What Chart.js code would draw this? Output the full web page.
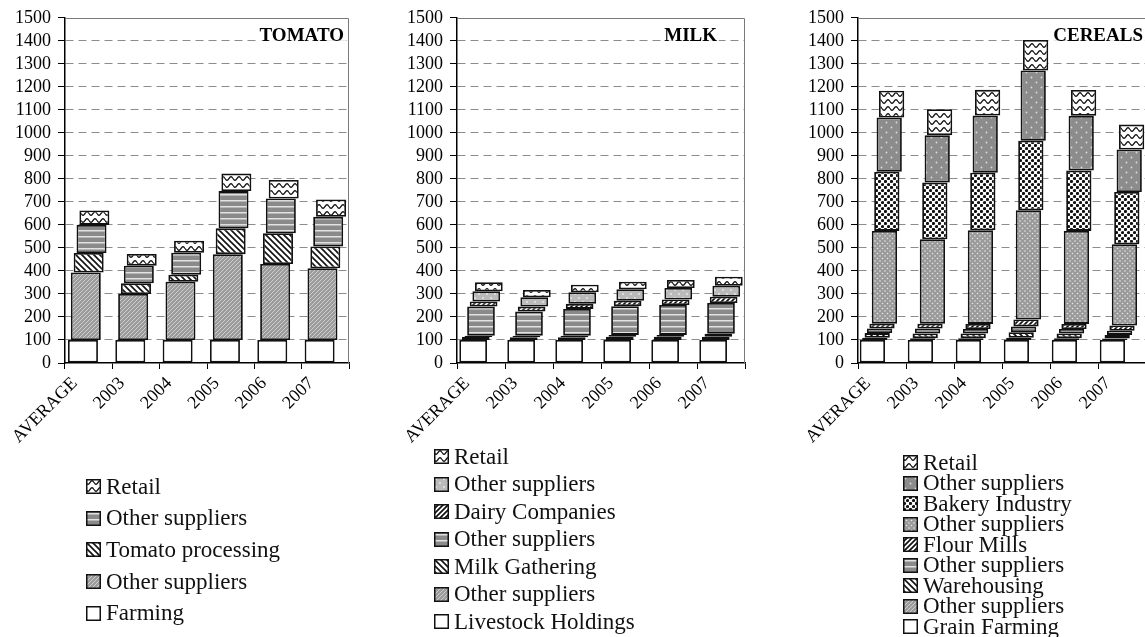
<!DOCTYPE html>
<html>
<head>
<meta charset="utf-8">
<script src="https://cdn.jsdelivr.net/npm/chart.js@4.4.1/dist/chart.umd.min.js"></script>
<style>
  html, body { margin: 0; padding: 0; background: #fff; overflow: hidden; width: 1145px; height: 637px; }
  .panel { position: absolute; top: 0; }
  .legend { position: absolute; font-family: 'Liberation Serif', 'Times New Roman', serif; font-size: 23px; color: #111; }
  .legend .row { display: flex; align-items: center; white-space: nowrap; }
  .legend canvas { margin-right: 5px; }
</style>
</head>
<body>
<canvas id="tomato" class="panel"></canvas>
<canvas id="milk" class="panel"></canvas>
<canvas id="cereals" class="panel"></canvas>
<div id="tomatoLegend" class="legend"></div>
<div id="milkLegend" class="legend"></div>
<div id="cerealsLegend" class="legend"></div>
<script>
const categories = ['AVERAGE', '2003', '2004', '2005', '2006', '2007'];
const yMin = 0;
const yMax = 1500;
const yStep = 100;

// TOMATO: value added by each stage of the chain
const tomatoStages = ['Farming', 'Other suppliers', 'Tomato processing', 'Other suppliers', 'Retail'];
const tomatoFarming = [100, 100, 100, 100, 100, 100];
const tomatoOther1 = [293, 200, 253, 373, 330, 312];
const tomatoProcessing = [85, 46, 31, 112, 134, 94];
const tomatoOther2 = [122, 77, 95, 162, 151, 129];
const tomatoRetail = [63, 51, 52, 76, 80, 76];

// MILK
const milkStages = ['Livestock Holdings', 'Other suppliers', 'Milk Gathering', 'Other suppliers',
  'Dairy Companies', 'Other suppliers', 'Retail'];
const milkLivestock = [100, 100, 100, 100, 100, 100];
const milkOther1 = [13, 12, 12, 14, 14, 14];
const milkGathering = [5, 6, 6, 8, 8, 13];
const milkOther2 = [127, 106, 117, 125, 130, 134];
const milkDairy = [22, 21, 22, 24, 24, 27];
const milkOther3 = [45, 41, 50, 49, 50, 48];
const milkRetail = [39, 31, 33, 33, 35, 39];

// CEREALS
const cerealStages = ['Grain Farming', 'Other suppliers', 'Warehousing', 'Other suppliers', 'Flour Mills',
  'Other suppliers', 'Bakery Industry', 'Other suppliers', 'Retail'];
const cerealFarming = [100, 100, 100, 100, 100, 100];
const cerealOther1 = [10, 8, 8, 10, 8, 6];
const cerealWarehousing = [20, 20, 20, 24, 20, 16];
const cerealOther2 = [20, 22, 20, 25, 20, 18];
const cerealFlour = [21, 21, 22, 30, 22, 23];
const cerealOther3 = [403, 367, 407, 475, 404, 353];
const cerealBakery = [257, 246, 250, 302, 262, 227];
const cerealOther4 = [236, 206, 248, 305, 238, 185];
const cerealRetail = [116, 113, 112, 133, 112, 108];

Chart.defaults.font.family = "'Liberation Serif', 'Times New Roman', serif";
Chart.defaults.font.size = 18;
Chart.defaults.color = '#000';

// fill patterns used by the bars and legend swatches
function makePattern(type) {
  if (type === 'white') return '#ffffff';
  const c = document.createElement('canvas');
  const g = c.getContext('2d');
  let w = 6, h = 6;
  if (type === 'grayDiag') { w = h = 4; }
  if (type === 'fwdDiag') { w = h = 5; }
  if (type === 'grayHoriz') { w = 4; h = 6; }
  if (type === 'lightDots') { w = h = 8; }
  if (type === 'grayDots') { w = h = 5; }
  if (type === 'sparseDots') { w = h = 10; }
  if (type === 'waves') { w = 8; h = 7; }
  c.width = w; c.height = h;
  const diag = (dir, color, lw) => {
    g.strokeStyle = color; g.lineWidth = lw;
    g.beginPath();
    for (let k = -1; k <= 1; k++) {
      if (dir > 0) { g.moveTo(k * w - 1, h + 1); g.lineTo(k * w + w + 1, -1); }
      else { g.moveTo(k * w - 1, -1); g.lineTo(k * w + w + 1, h + 1); }
    }
    g.stroke();
  };
  const dot = (x, y, r, color) => {
    g.fillStyle = color; g.beginPath(); g.arc(x, y, r, 0, Math.PI * 2); g.fill();
  };
  switch (type) {
    case 'grayDiag':
      g.fillStyle = '#9c9c9c'; g.fillRect(0, 0, w, h);
      diag(1, '#d2d2d2', 0.9);
      break;
    case 'backDiag':
      g.fillStyle = '#fff'; g.fillRect(0, 0, w, h);
      diag(-1, '#111', 1.6);
      break;
    case 'fwdDiag':
      g.fillStyle = '#fff'; g.fillRect(0, 0, w, h);
      diag(1, '#111', 1.7);
      break;
    case 'grayHoriz':
      g.fillStyle = '#8a8a8a'; g.fillRect(0, 0, w, h);
      g.fillStyle = '#e2e2e2'; g.fillRect(0, 2, w, 1.5);
      break;
    case 'lightDots':
      g.fillStyle = '#bababa'; g.fillRect(0, 0, w, h);
      dot(2, 2, 0.9, '#ececec'); dot(6, 6, 0.9, '#ececec');
      break;
    case 'grayDots':
      g.fillStyle = '#9a9a9a'; g.fillRect(0, 0, w, h);
      dot(1, 1, 0.8, '#e8e8e8'); dot(3.5, 3.5, 0.8, '#e8e8e8');
      break;
    case 'bigDots':
      g.fillStyle = '#fff'; g.fillRect(0, 0, w, h);
      dot(1.5, 1.5, 1.6, '#111'); dot(4.5, 4.5, 1.6, '#111');
      break;
    case 'sparseDots':
      g.fillStyle = '#8c8c8c'; g.fillRect(0, 0, w, h);
      dot(2.5, 2.5, 0.9, '#dcdcdc'); dot(7.5, 7.5, 0.9, '#dcdcdc');
      break;
    case 'waves':
      g.fillStyle = '#fff'; g.fillRect(0, 0, w, h);
      g.strokeStyle = '#111'; g.lineWidth = 1.3;
      g.beginPath();
      for (let x = 0; x <= w; x += 0.5) {
        const y = 3.5 + 1.8 * Math.sin(2 * Math.PI * x / w);
        if (x === 0) g.moveTo(x, y); else g.lineTo(x, y);
      }
      g.stroke();
      break;
  }
  return g.createPattern(c, 'repeat');
}

// turn stage values into floating [start, end] ranges
function buildRanges(series) {
  let base = categories.map(() => 0);
  return series.map(vals => {
    const r = vals.map((v, i) => [base[i], base[i] + v]);
    base = base.map((b, i) => b + vals[i]);
    return r;
  });
}

const framePlugin = {
  id: 'frame',
  beforeDatasetsDraw(chart) {
    const {ctx, chartArea: a} = chart;
    ctx.save();
    ctx.strokeStyle = '#7a7a7a';
    ctx.lineWidth = 1;
    ctx.beginPath();
    ctx.moveTo(a.left, Math.round(a.top) + 0.5);
    ctx.lineTo(Math.round(a.right) - 0.5, Math.round(a.top) + 0.5);
    ctx.lineTo(Math.round(a.right) - 0.5, a.bottom);
    ctx.stroke();
    ctx.restore();
  }
};

const titlePlugin = {
  id: 'panelTitle',
  afterDatasetsDraw(chart, args, opts) {
    const {ctx, chartArea} = chart;
    ctx.save();
    ctx.font = "bold 19px 'Liberation Serif', 'Times New Roman', serif";
    const w = ctx.measureText(opts.text).width;
    const x = chartArea.right - opts.inset;
    const y = chart.scales.y.getPixelForValue(1400);
    ctx.fillStyle = '#fff';
    ctx.fillRect(x - w - 3, y - 15, w + 5, 15);
    ctx.fillStyle = '#000';
    ctx.textAlign = 'right';
    ctx.textBaseline = 'alphabetic';
    ctx.fillText(opts.text, x, y);
    ctx.restore();
  }
};

const panels = [
  {
    id: 'tomato', title: 'TOMATO', titleInset: 5,
    stages: tomatoStages,
    series: [tomatoFarming, tomatoOther1, tomatoProcessing, tomatoOther2, tomatoRetail],
    fills: ['white', 'grayDiag', 'backDiag', 'grayHoriz', 'waves'],
    axisX: 64.5, plotRight: 348, catPct: 0.3016, barPct: 10.5,
    legend: {x: 86, y: 471, row: 31.6}
  },
  {
    id: 'milk', title: 'MILK', titleInset: 28,
    stages: milkStages,
    series: [milkLivestock, milkOther1, milkGathering, milkOther2, milkDairy, milkOther3, milkRetail],
    fills: ['white', 'grayDiag', 'backDiag', 'grayHoriz', 'fwdDiag', 'lightDots', 'waves'],
    axisX: 456.7, plotRight: 745, catPct: 0.382, barPct: 10.57,
    legend: {x: 434, y: 443, row: 27.5}
  },
  {
    id: 'cereals', title: 'CEREALS', titleInset: 3,
    stages: cerealStages,
    series: [cerealFarming, cerealOther1, cerealWarehousing, cerealOther2, cerealFlour,
      cerealOther3, cerealBakery, cerealOther4, cerealRetail],
    fills: ['white', 'grayDiag', 'backDiag', 'grayHoriz', 'fwdDiag', 'grayDots', 'bigDots', 'sparseDots', 'waves'],
    axisX: 857.7, plotRight: 1146, catPct: 0.451, barPct: 10.5,
    legend: {x: 903, y: 452.5, row: 20.5}
  }
];

const canvasH = 470;
const plotTop = 16;
const plotBottom = 363;
const yAxisW = 64;
const padRight = 12;

panels.forEach(p => {
  const canvas = document.getElementById(p.id);
  const left = p.axisX - yAxisW;
  canvas.width = Math.round(p.plotRight - left + padRight);
  canvas.height = canvasH;
  canvas.style.left = left + 'px';

  const ranges = buildRanges(p.series);
  const patterns = p.fills.map(makePattern);

  new Chart(canvas, {
    type: 'bar',
    data: {
      labels: categories,
      datasets: p.stages.map((name, i) => ({
        label: name,
        data: ranges[i],
        backgroundColor: patterns[i],
        borderColor: '#111',
        borderWidth: 1.8,
        borderSkipped: false,
        categoryPercentage: p.catPct,
        barPercentage: p.barPct
      }))
    },
    options: {
      responsive: false,
      animation: false,
      layout: { padding: { top: plotTop, right: padRight, bottom: 0, left: 0 } },
      plugins: {
        legend: { display: false },
        tooltip: { enabled: false },
        panelTitle: { text: p.title, inset: p.titleInset }
      },
      scales: {
        x: {
          stacked: false,
          afterFit: s => { s.height = canvasH - plotBottom; },
          grid: { drawOnChartArea: false, drawTicks: true, tickLength: 6, tickColor: '#000', offset: true },
          border: { color: '#000', width: 1.5 },
          ticks: { maxRotation: 45, minRotation: 45, autoSkip: false, labelOffset: -14, padding: 4 }
        },
        y: {
          stacked: false,
          min: yMin,
          max: yMax,
          afterFit: s => { s.width = yAxisW; },
          ticks: { stepSize: yStep, maxTicksLimit: 20, autoSkip: false, padding: 7, callback: v => String(v) },
          grid: {
            color: c => (c.tick && (c.tick.value === yMin || c.tick.value === yMax)) ? 'rgba(0,0,0,0)' : '#8c8c8c',
            lineWidth: 1,
            tickLength: 7,
            tickColor: '#000'
          },
          border: { color: '#000', width: 1.5, dash: [8, 5] }
        }
      }
    },
    plugins: [framePlugin, titlePlugin]
  });

  // legend, listed from the last stage to the first
  const box = document.getElementById(p.id + 'Legend');
  box.style.left = p.legend.x + 'px';
  box.style.top = p.legend.y + 'px';
  p.stages.map((name, i) => i).reverse().forEach(i => {
    const row = document.createElement('div');
    row.className = 'row';
    row.style.height = p.legend.row + 'px';
    const sw = document.createElement('canvas');
    sw.width = 15; sw.height = 15;
    const g = sw.getContext('2d');
    g.fillStyle = patterns[i];
    g.fillRect(0, 0, 15, 15);
    g.strokeStyle = '#111'; g.lineWidth = 1.5;
    g.strokeRect(0.75, 0.75, 13.5, 13.5);
    const span = document.createElement('span');
    span.textContent = p.stages[i];
    row.appendChild(sw);
    row.appendChild(span);
    box.appendChild(row);
  });
});
</script>
</body>
</html>
